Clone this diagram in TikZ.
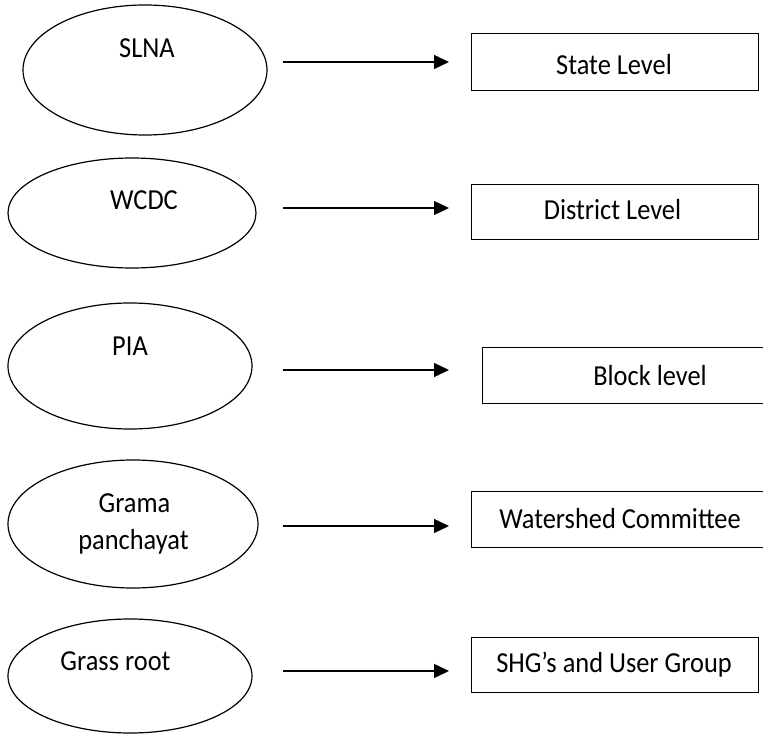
\documentclass[tikz,border=0pt]{standalone}
\usepackage{fontspec}
\setmainfont{Carlito}[FakeStretch=0.91]
\usetikzlibrary{shapes.geometric,arrows.meta}
\begin{document}
\begin{tikzpicture}[x=1pt,y=-1pt,
  oval/.style={draw,line width=1.2pt,ellipse,inner sep=0pt},
  levelbox/.style={draw,line width=1.4pt,rectangle,inner sep=0pt,anchor=north west},
  lbl/.style={anchor=base,inner sep=0pt,font=\fontsize{29}{35}\selectfont},
  conn/.style={line width=1.3pt,-{Triangle[length=15pt,width=14pt]}}]
\useasboundingbox (0,0) rectangle (763,735);
\clip (0,0) rectangle (763,735);
% ellipses
\node[oval,minimum width=244pt,minimum height=130pt] (e1) at (145,70) {};
\node[oval,minimum width=248pt,minimum height=110pt] (e2) at (132,213) {};
\node[oval,minimum width=244pt,minimum height=126pt] (e3) at (130,366) {};
\node[oval,minimum width=250pt,minimum height=128pt] (e4) at (133,524) {};
\node[oval,minimum width=244pt,minimum height=114pt] (e5) at (130,676) {};
% ellipse labels
\node[lbl] (t1) at (147,58) {SLNA};
\node[lbl] (t2) at (144,210) {WCDC};
\node[lbl] (t3) at (130,355) {PIA};
\node[lbl] (t4a) at (134.5,512) {Grama};
\node[lbl] (t4b) at (133.5,549) {panchayat};
\node[lbl] (t5) at (115.5,670) {Grass root};
% boxes
\node[levelbox,minimum width=287pt,minimum height=57pt] (b1) at (471,33) {};
\node[levelbox,minimum width=287pt,minimum height=55pt] (b2) at (471,184) {};
\node[levelbox,minimum width=320pt,minimum height=56pt] (b3) at (482,347) {};
\node[levelbox,minimum width=320pt,minimum height=56pt] (b4) at (471,491) {};
\node[levelbox,minimum width=287pt,minimum height=55pt] (b5) at (471,637) {};
% box labels
\node[lbl] (s1) at (614,75) {State Level};
\node[lbl] (s2) at (612.5,220) {District Level};
\node[lbl] (s3) at (650,385) {Block level};
\node[lbl] (s4) at (620,528) {Watershed Committee};
\node[lbl] (s5) at (614,672) {SHG’s and User Group};
% arrows
\coordinate (a1s) at (283,62);  \coordinate (a1e) at (449,62);
\coordinate (a2s) at (283,208); \coordinate (a2e) at (449,208);
\coordinate (a3s) at (283,370); \coordinate (a3e) at (449,370);
\coordinate (a4s) at (283,526); \coordinate (a4e) at (449,526);
\coordinate (a5s) at (283,671); \coordinate (a5e) at (449,671);
\draw[conn] (a1s) -- (a1e);
\draw[conn] (a2s) -- (a2e);
\draw[conn] (a3s) -- (a3e);
\draw[conn] (a4s) -- (a4e);
\draw[conn] (a5s) -- (a5e);
\end{tikzpicture}
\end{document}
